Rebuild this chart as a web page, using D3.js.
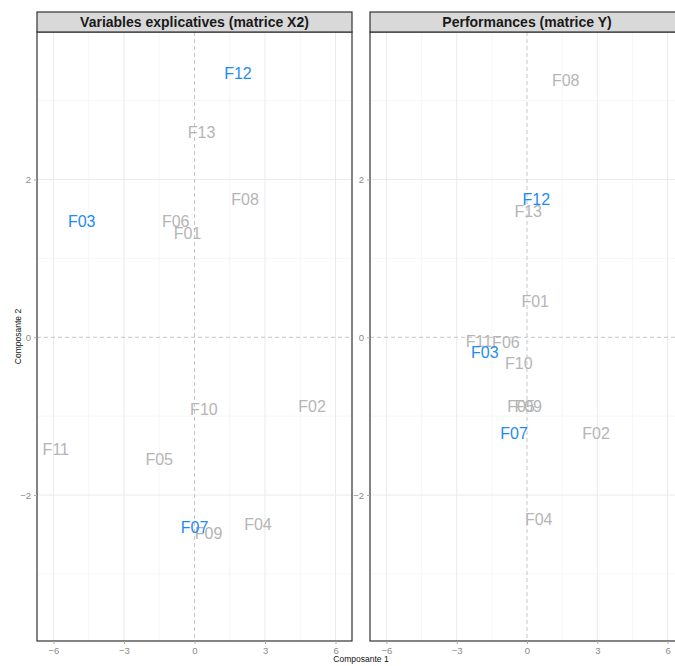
<!DOCTYPE html>
<html>
<head>
<meta charset="utf-8">
<script src="https://cdn.jsdelivr.net/npm/d3@7"></script>
<style>
html,body{margin:0;padding:0;background:#fff;}
svg{display:block;font-family:"Liberation Sans",Arial,sans-serif;}
</style>
</head>
<body>
<svg id="chart" width="675" height="666"></svg>
<script>
// ---- data ----
const panelTitles = ["Variables explicatives (matrice X2)", "Performances (matrice Y)"];
const labelsX2 = ["F01","F02","F03","F04","F05","F06","F07","F08","F09","F10","F11","F12","F13"];
const comp1X2 = [-0.3, 5.0, -4.8, 2.7, -1.5, -0.8, 0.0, 2.15, 0.6, 0.4, -5.9, 1.85, 0.3];
const comp2X2 = [1.32, -0.88, 1.47, -2.37, -1.55, 1.47, -2.41, 1.75, -2.49, -0.91, -1.42, 3.35, 2.59];
const labelsY = ["F01","F02","F03","F04","F05","F06","F07","F08","F09","F10","F11","F12","F13"];
const comp1Y = [0.35, 2.95, -1.8, 0.5, -0.25, -0.9, -0.55, 1.65, 0.05, -0.35, -2.05, 0.4, 0.05];
const comp2Y = [0.45, -1.22, -0.19, -2.31, -0.88, -0.07, -1.22, 3.25, -0.88, -0.33, -0.05, 1.75, 1.59];
const highlighted = ["F03","F07","F12"];
const xTicks = [-6, -3, 0, 3, 6];
const yTicks = [-2, 0, 2];
const xMinor = [-4.5, -1.5, 1.5, 4.5];
const yMinor = [-3, -1, 1, 3];
const xTitle = "Composante 1";
const yTitle = "Composante 2";

const svg = d3.select("#chart");
const pTop = 32, pBottom = 641, stripTop = 12;
const panels = [
  {x0: 37, x1: 352, title: panelTitles[0], labels: labelsX2, c1: comp1X2, c2: comp2X2},
  {x0: 370, x1: 684, title: panelTitles[1], labels: labelsY, c1: comp1Y, c2: comp2Y}
];
const y = d3.scaleLinear().domain([-3.85, 3.87]).range([pBottom, pTop]);

panels.forEach(p => {
  const x = d3.scaleLinear().domain([-6.7, 6.7]).range([p.x0, p.x1]);
  const g = svg.append("g");
  // grid
  g.selectAll(".vminor").data(xMinor).join("line")
    .attr("x1", d => x(d)).attr("x2", d => x(d)).attr("y1", pTop).attr("y2", pBottom)
    .attr("stroke", "#f2f2f2").attr("stroke-width", 0.7);
  g.selectAll(".hminor").data(yMinor).join("line")
    .attr("y1", d => y(d)).attr("y2", d => y(d)).attr("x1", p.x0).attr("x2", p.x1)
    .attr("stroke", "#f2f2f2").attr("stroke-width", 0.7);
  g.selectAll(".vmajor").data(xTicks.filter(d => d !== 0)).join("line")
    .attr("x1", d => x(d)).attr("x2", d => x(d)).attr("y1", pTop).attr("y2", pBottom)
    .attr("stroke", "#ebebeb").attr("stroke-width", 1);
  g.selectAll(".hmajor").data(yTicks.filter(d => d !== 0)).join("line")
    .attr("y1", d => y(d)).attr("y2", d => y(d)).attr("x1", p.x0).attr("x2", p.x1)
    .attr("stroke", "#ebebeb").attr("stroke-width", 1);
  // zero reference lines
  g.append("line").attr("x1", x(0)).attr("x2", x(0)).attr("y1", pTop).attr("y2", pBottom)
    .attr("stroke", "#b8b8b8").attr("stroke-dasharray", "4,3").attr("stroke-width", 0.8);
  g.append("line").attr("y1", y(0)).attr("y2", y(0)).attr("x1", p.x0).attr("x2", p.x1)
    .attr("stroke", "#b8b8b8").attr("stroke-dasharray", "4,3").attr("stroke-width", 0.8);

  // labels
  const pts = p.labels.map((l, i) => ({l, a: p.c1[i], b: p.c2[i]}));
  const grey = pts.filter(d => !highlighted.includes(d.l));
  const blue = pts.filter(d => highlighted.includes(d.l));
  g.selectAll(".lg").data(grey).join("text")
    .attr("x", d => x(d.a)).attr("y", d => y(d.b))
    .attr("text-anchor", "middle").attr("dominant-baseline", "central")
    .attr("font-size", 16).attr("fill", "#b5b5b5").text(d => d.l);
  g.selectAll(".lb").data(blue).join("text")
    .attr("x", d => x(d.a)).attr("y", d => y(d.b))
    .attr("text-anchor", "middle").attr("dominant-baseline", "central")
    .attr("font-size", 16).attr("fill", "#1e8cf0").text(d => d.l);

  // panel border
  g.append("rect").attr("x", p.x0).attr("y", pTop).attr("width", p.x1 - p.x0).attr("height", pBottom - pTop)
    .attr("fill", "none").attr("stroke", "#333").attr("stroke-width", 1.2);
  // strip
  g.append("rect").attr("x", p.x0).attr("y", stripTop).attr("width", p.x1 - p.x0).attr("height", pTop - stripTop)
    .attr("fill", "#d9d9d9").attr("stroke", "#333").attr("stroke-width", 1.2);
  g.append("text").attr("x", (p.x0 + p.x1) / 2).attr("y", (stripTop + pTop) / 2)
    .attr("text-anchor", "middle").attr("dominant-baseline", "central")
    .attr("font-size", 14).attr("font-weight", "bold").attr("fill", "#1a1a1a").text(p.title);

  // axes
  const ax = g.append("g").attr("transform", `translate(0,${pBottom})`)
    .call(d3.axisBottom(x).tickValues(xTicks).tickSize(3).tickPadding(3).tickFormat(d3.format("d")));
  ax.select(".domain").remove();
  ax.selectAll("line").attr("stroke", "#aaa");
  ax.selectAll("text").attr("fill", "#8a8a8a").attr("font-size", 9.5).attr("font-family", "Liberation Sans, Arial, sans-serif");
  const ay = g.append("g").attr("transform", `translate(${p.x0},0)`)
    .call(d3.axisLeft(y).tickValues(yTicks).tickSize(3).tickPadding(3).tickFormat(d3.format("d")));
  ay.select(".domain").remove();
  ay.selectAll("line").attr("stroke", "#aaa");
  ay.selectAll("text").attr("fill", "#8a8a8a").attr("font-size", 9.5).attr("font-family", "Liberation Sans, Arial, sans-serif");
});

svg.append("text").attr("x", 361).attr("y", 662).attr("text-anchor", "middle")
  .attr("font-size", 8.5).attr("fill", "#111").text(xTitle);
svg.append("text").attr("transform", `translate(18,${(pTop + pBottom) / 2}) rotate(-90)`)
  .attr("text-anchor", "middle").attr("dominant-baseline", "central")
  .attr("font-size", 8.5).attr("fill", "#111").text(yTitle);
</script>
</body>
</html>
